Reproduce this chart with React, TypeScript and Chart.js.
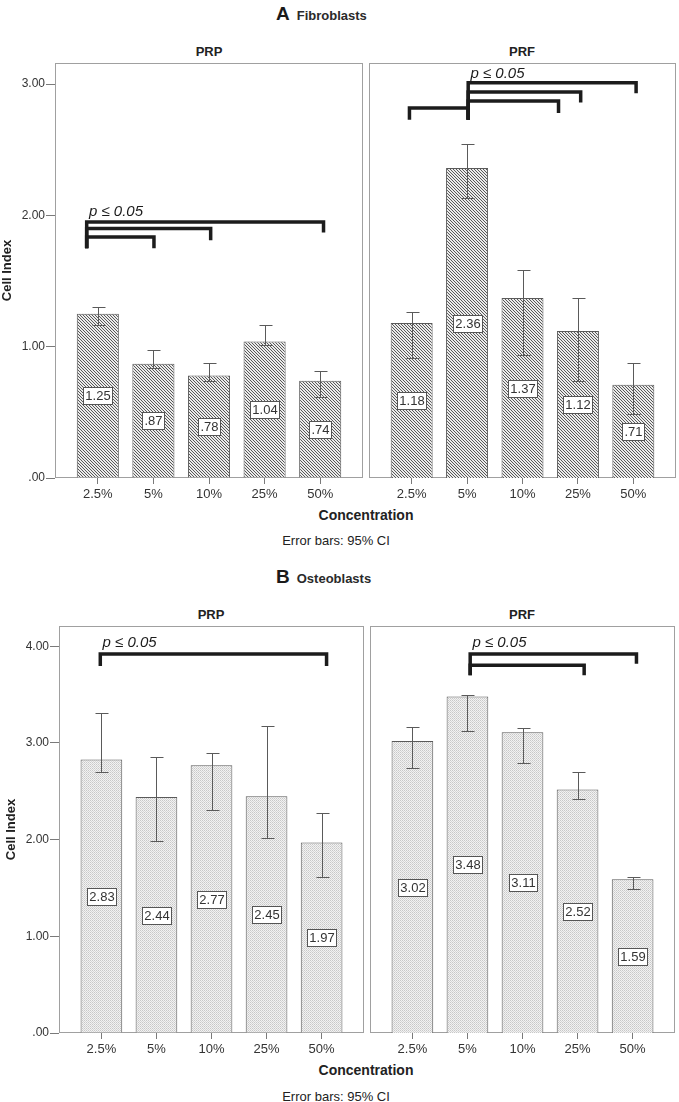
import React, { useEffect, useRef } from 'react';
import { Chart, registerables } from 'chart.js';

Chart.register(...registerables);

const FONT = '"Liberation Sans", Arial, Helvetica, sans-serif';

// ---------- data ----------
const categories = ['2.5%', '5%', '10%', '25%', '50%'];
const fibroYTicks = [0, 1, 2, 3];
const osteoYTicks = [0, 1, 2, 3, 4];

// A: Fibroblasts
const fibroPRPMean = [1.25, 0.87, 0.78, 1.04, 0.74];
const fibroPRPLow = [1.165, 0.84, 0.74, 1.01, 0.62];
const fibroPRPHigh = [1.3, 0.975, 0.875, 1.165, 0.817];

const fibroPRFMean = [1.18, 2.36, 1.37, 1.12, 0.71];
const fibroPRFLow = [0.916, 2.135, 0.937, 0.74, 0.487];
const fibroPRFHigh = [1.265, 2.544, 1.584, 1.373, 0.876];

// B: Osteoblasts
const osteoPRPMean = [2.83, 2.44, 2.77, 2.45, 1.97];
const osteoPRPLow = [2.7, 1.985, 2.306, 2.02, 1.616];
const osteoPRPHigh = [3.31, 2.854, 2.895, 3.18, 2.28];

const osteoPRFMean = [3.02, 3.48, 3.11, 2.52, 1.59];
const osteoPRFLow = [2.74, 3.12, 2.795, 2.417, 1.49];
const osteoPRFHigh = [3.164, 3.5, 3.15, 2.696, 1.61];

// significance annotations: [fromCategory, toCategory, bracketLevel, leftFoot, rightFoot]
const significanceLabel = 'p ≤ 0.05';
const fibroPRPBrackets = [
  [-0.2, 1.01, 1.835, 1.75, 1.75],
  [-0.2, 2.03, 1.9, 1.75, 1.81],
  [-0.2, 4.06, 1.95, 1.75, 1.87],
];
const fibroPRPLabelAt = [-0.16, 2.03];
const fibroPRFBrackets = [
  [-0.04, 1.02, 2.818, 2.727, 2.727],
  [1.02, 2.65, 2.87, 2.727, 2.78],
  [1.02, 3.05, 2.94, 2.727, 2.86],
  [1.02, 4.05, 3.01, 2.727, 2.93],
];
const fibroPRFLabelAt = [1.06, 3.08];
const osteoPRPBrackets = [[-0.02, 4.09, 3.92, 3.795, 3.795]];
const osteoPRPLabelAt = [0.02, 4.04];
const osteoPRFBrackets = [
  [1.05, 4.07, 3.92, 3.7, 3.82],
  [1.05, 3.12, 3.805, 3.7, 3.7],
];
const osteoPRFLabelAt = [1.09, 4.04];

// ---------- helpers ----------
const fmt = (v: number) => {
  const s = v.toFixed(2);
  return s.startsWith('0') ? s.slice(1) : s;
};

function makePattern(kind: string): CanvasPattern | string {
  const c = document.createElement('canvas');
  const ctx = c.getContext('2d');
  if (!ctx) return '#bbb';
  if (kind === 'hatch') {
    c.width = 3;
    c.height = 3;
    ctx.fillStyle = '#ebebeb';
    ctx.fillRect(0, 0, 3, 3);
    ctx.fillStyle = '#585858';
    for (let i = 0; i < 3; i++) ctx.fillRect(i, i, 1, 1);
  } else {
    c.width = 2;
    c.height = 2;
    ctx.fillStyle = '#f2f2f2';
    ctx.fillRect(0, 0, 2, 2);
    ctx.fillStyle = '#c8c8c8';
    ctx.fillRect(0, 0, 1, 1);
    ctx.fillStyle = '#d6d6d6';
    ctx.fillRect(1, 1, 1, 1);
  }
  const p = ctx.createPattern(c, 'repeat');
  return p || '#bbb';
}

type Spec = {
  left: number;
  top: number;
  width: number;
  height: number;
  means: number[];
  low: number[];
  high: number[];
  brackets: number[][];
  labelAt: number[];
  yTicks: number[];
  yMax: number;
  showY: boolean;
  yAxisWidth: number;
  yTitlePad: number;
  padding: { left: number; right: number; top: number; bottom: number };
  xAxisHeight: number;
  fill: string;
};

function overlay(spec: Spec) {
  return {
    id: 'overlay',
    beforeDatasetsDraw(chart: any) {
      const { ctx, chartArea: a } = chart;
      ctx.save();
      ctx.strokeStyle = '#a0a0a0';
      ctx.lineWidth = 1;
      ctx.strokeRect(
        Math.round(a.left) + 0.5,
        Math.round(a.top) + 0.5,
        Math.round(a.right - a.left) - 1,
        Math.round(a.bottom - a.top) - 1
      );
      ctx.restore();
    },
    afterDatasetsDraw(chart: any) {
      const ctx = chart.ctx;
      const xs = chart.scales.x;
      const ys = chart.scales.y;
      ctx.save();
      // error bars
      ctx.strokeStyle = '#5a5a5a';
      ctx.lineWidth = 1;
      spec.means.forEach((_m, i) => {
        const x = Math.round(xs.getPixelForValue(i)) + 0.5;
        const y1 = Math.round(ys.getPixelForValue(spec.low[i])) + 0.5;
        const y2 = Math.round(ys.getPixelForValue(spec.high[i])) + 0.5;
        ctx.beginPath();
        ctx.moveTo(x, y1);
        ctx.lineTo(x, y2);
        ctx.moveTo(x - 6, y1);
        ctx.lineTo(x + 7, y1);
        ctx.moveTo(x - 6, y2);
        ctx.lineTo(x + 7, y2);
        ctx.stroke();
      });
      // value labels
      ctx.font = `13px ${FONT}`;
      ctx.textAlign = 'center';
      ctx.textBaseline = 'middle';
      spec.means.forEach((m, i) => {
        const t = fmt(m);
        const w = Math.round(ctx.measureText(t).width + 4);
        const h = 17;
        const x = xs.getPixelForValue(i);
        const y = ys.getPixelForValue(m / 2);
        const bx = Math.round(x - w / 2) + 0.5;
        const by = Math.round(y - h / 2) + 0.5;
        ctx.fillStyle = '#ffffff';
        ctx.fillRect(bx, by, w, h);
        ctx.strokeStyle = '#555555';
        ctx.strokeRect(bx, by, w, h);
        ctx.fillStyle = '#333333';
        ctx.fillText(t, bx + w / 2, by + h / 2 + 0.5);
      });
      // significance brackets
      ctx.strokeStyle = '#1c1c1c';
      ctx.lineWidth = 3.5;
      ctx.lineJoin = 'miter';
      ctx.lineCap = 'butt';
      spec.brackets.forEach(([a, b, lvl, fa, fb]) => {
        ctx.beginPath();
        ctx.moveTo(xs.getPixelForValue(a), ys.getPixelForValue(fa));
        ctx.lineTo(xs.getPixelForValue(a), ys.getPixelForValue(lvl));
        ctx.lineTo(xs.getPixelForValue(b), ys.getPixelForValue(lvl));
        ctx.lineTo(xs.getPixelForValue(b), ys.getPixelForValue(fb));
        ctx.stroke();
      });
      ctx.font = `italic 15px ${FONT}`;
      ctx.fillStyle = '#1c1c1c';
      ctx.textAlign = 'left';
      ctx.textBaseline = 'middle';
      ctx.fillText(
        significanceLabel,
        xs.getPixelForValue(spec.labelAt[0]),
        ys.getPixelForValue(spec.labelAt[1])
      );
      ctx.restore();
    },
  };
}

function Panel({ spec }: { spec: Spec }) {
  const ref = useRef<HTMLCanvasElement>(null);
  useEffect(() => {
    const canvas = ref.current;
    if (!canvas) return;
    const pattern = makePattern(spec.fill);
    const chart = new Chart(canvas, {
      type: 'bar',
      data: {
        datasets: [
          {
            data: spec.means.map((v, i) => ({ x: i, y: v })),
            backgroundColor: pattern as any,
            borderColor: '#5a5a5a',
            borderWidth: 1,
            barPercentage: 0.757,
            categoryPercentage: 1,
          } as any,
        ],
      },
      options: {
        animation: false,
        responsive: false,
        events: [],
        layout: { padding: spec.padding },
        plugins: {
          legend: { display: false },
          tooltip: { enabled: false },
        },
        scales: {
          x: {
            type: 'linear',
            min: -0.77,
            max: 4.77,
            offset: false,
            afterBuildTicks: (s: any) => {
              s.ticks = categories.map((_c, i) => ({ value: i }));
            },
            afterFit: (s: any) => {
              s.height = spec.xAxisHeight;
            },
            ticks: {
              autoSkip: false,
              maxRotation: 0,
              minRotation: 0,
              padding: 3,
              color: '#333333',
              font: { family: FONT, size: 13 },
              callback: (v: any) => categories[v] ?? '',
            },
            grid: {
              display: true,
              drawOnChartArea: false,
              drawTicks: true,
              tickLength: 6,
              tickColor: '#7a7a7a',
              offset: false,
            },
            border: { display: false },
          },
          y: {
            type: 'linear',
            min: 0,
            max: spec.yMax,
            display: spec.showY,
            afterBuildTicks: (s: any) => {
              s.ticks = spec.yTicks.map((v) => ({ value: v }));
            },
            afterFit: (s: any) => {
              s.width = spec.yAxisWidth;
            },
            ticks: {
              padding: 1,
              color: '#333333',
              font: { family: FONT, size: 12 },
              callback: (v: any) => fmt(Number(v)),
            },
            grid: {
              display: true,
              drawOnChartArea: false,
              drawTicks: true,
              tickLength: 9,
              tickColor: '#7a7a7a',
            },
            border: { display: false },
            title: {
              display: true,
              text: 'Cell Index',
              color: '#222222',
              font: { family: FONT, size: 13, weight: 'bold' },
              padding: { top: spec.yTitlePad, bottom: 0 },
            },
          },
        },
      } as any,
      plugins: [overlay(spec) as any],
    });
    return () => chart.destroy();
  }, []);
  return (
    <canvas
      ref={ref}
      width={spec.width}
      height={spec.height}
      style={{
        position: 'absolute',
        left: spec.left,
        top: spec.top,
        width: spec.width,
        height: spec.height,
      }}
    />
  );
}

function Label({
  cx,
  cy,
  text,
  size,
  bold,
}: {
  cx: number;
  cy: number;
  text: string;
  size: number;
  bold?: boolean;
}) {
  return (
    <div
      style={{
        position: 'absolute',
        left: cx - 150,
        width: 300,
        top: cy - 10,
        height: 20,
        lineHeight: '20px',
        textAlign: 'center',
        fontFamily: FONT,
        fontSize: size,
        fontWeight: bold ? 'bold' : 'normal',
        color: '#222',
        whiteSpace: 'nowrap',
      }}
    >
      {text}
    </div>
  );
}

function MainTitle({ top, letter, text }: { top: number; letter: string; text: string }) {
  return (
    <div
      style={{
        position: 'absolute',
        left: 276,
        top,
        height: 19,
        lineHeight: '19px',
        fontFamily: FONT,
        fontSize: 19,
        fontWeight: 'bold',
        color: '#1a1a1a',
        whiteSpace: 'nowrap',
      }}
    >
      {letter}
      <span style={{ fontSize: 13, marginLeft: 7, color: '#2a2a2a' }}>{text}</span>
    </div>
  );
}

const specs: Spec[] = [
  {
    left: 0, top: 40, width: 366, height: 470,
    means: fibroPRPMean, low: fibroPRPLow, high: fibroPRPHigh,
    brackets: fibroPRPBrackets, labelAt: fibroPRPLabelAt,
    yTicks: fibroYTicks, yMax: 3.16, showY: true, yAxisWidth: 55, yTitlePad: 0,
    padding: { left: 0, right: 3, top: 23, bottom: 0 }, xAxisHeight: 32, fill: 'hatch',
  },
  {
    left: 366, top: 40, width: 313, height: 470,
    means: fibroPRFMean, low: fibroPRFLow, high: fibroPRFHigh,
    brackets: fibroPRFBrackets, labelAt: fibroPRFLabelAt,
    yTicks: fibroYTicks, yMax: 3.16, showY: false, yAxisWidth: 0, yTitlePad: 0,
    padding: { left: 3, right: 3, top: 23, bottom: 0 }, xAxisHeight: 32, fill: 'hatch',
  },
  {
    left: 0, top: 600, width: 366, height: 470,
    means: osteoPRPMean, low: osteoPRPLow, high: osteoPRPHigh,
    brackets: osteoPRPBrackets, labelAt: osteoPRPLabelAt,
    yTicks: osteoYTicks, yMax: 4.21, showY: true, yAxisWidth: 59, yTitlePad: 4,
    padding: { left: 0, right: 2, top: 26, bottom: 0 }, xAxisHeight: 37, fill: 'dots',
  },
  {
    left: 366, top: 600, width: 313, height: 470,
    means: osteoPRFMean, low: osteoPRFLow, high: osteoPRFHigh,
    brackets: osteoPRFBrackets, labelAt: osteoPRFLabelAt,
    yTicks: osteoYTicks, yMax: 4.21, showY: false, yAxisWidth: 0, yTitlePad: 0,
    padding: { left: 4, right: 4, top: 26, bottom: 0 }, xAxisHeight: 37, fill: 'dots',
  },
];

export default function App() {
  return (
    <div
      style={{
        position: 'absolute',
        left: 0,
        top: 0,
        width: 679,
        height: 1102,
        background: '#ffffff',
        overflow: 'hidden',
      }}
    >
      <MainTitle top={4} letter="A" text="Fibroblasts" />
      <Label cx={209} cy={52} text="PRP" size={13} bold />
      <Label cx={522} cy={52} text="PRF" size={13} bold />
      <Label cx={366} cy={515} text="Concentration" size={14} bold />
      <Label cx={336} cy={541} text="Error bars: 95% CI" size={13} />

      <MainTitle top={567} letter="B" text="Osteoblasts" />
      <Label cx={211} cy={615} text="PRP" size={13} bold />
      <Label cx={522} cy={615} text="PRF" size={13} bold />
      <Label cx={366} cy={1070} text="Concentration" size={14} bold />
      <Label cx={336} cy={1097} text="Error bars: 95% CI" size={13} />

      {specs.map((s, i) => (
        <Panel key={i} spec={s} />
      ))}
    </div>
  );
}
